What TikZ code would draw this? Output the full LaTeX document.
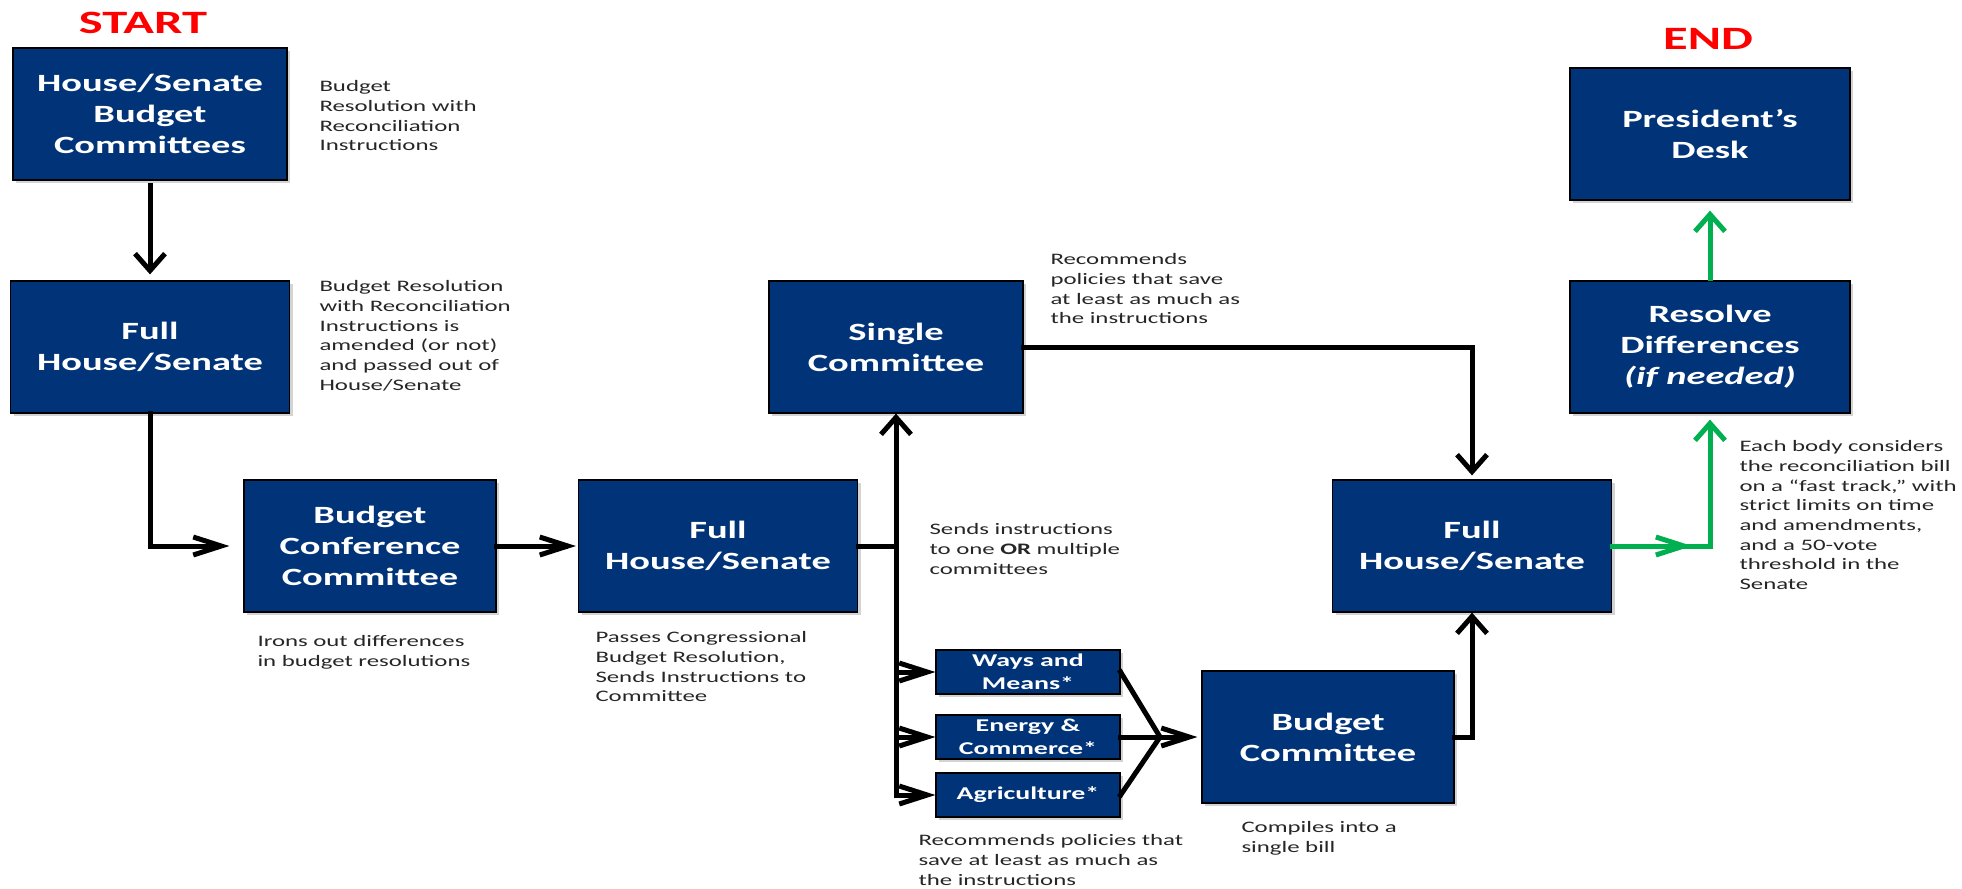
\documentclass[tikz,border=0pt]{standalone}
\usepackage{fontspec}
\setmainfont{Carlito}[FakeStretch=1.55]
\usetikzlibrary{arrows.meta,shadows}

\definecolor{navy}{RGB}{0,51,119}
\definecolor{okgreen}{RGB}{0,176,80}
\newcommand{\boxfont}{\fontsize{12.4}{15.5}\selectfont\bfseries}
\newcommand{\smallboxfont}{\fontsize{9}{11.3}\selectfont\bfseries}
\newcommand{\notefont}{\fontsize{8}{9.85}\selectfont}
\newcommand{\tagfont}{\fontsize{16.3}{18}\selectfont\bfseries}

\begin{document}
\begin{tikzpicture}[x=0.5pt,y=-0.5pt,line width=2.5pt,line cap=rect,
    hto/.style={-{Straight Barb[length=14pt,width=9pt]}},
    vto/.style={-{Straight Barb[length=8.5pt,width=15pt]}}]
    \tikzstyle{box}=[draw=black,line width=0.6pt,fill=navy,text=white,font=\boxfont,
      align=center,inner sep=0pt,minimum height=66pt,
      drop shadow={shadow xshift=1.5pt,shadow yshift=-1.5pt,opacity=0.35}]
    \tikzstyle{small box}=[box,font=\smallboxfont,minimum height=22pt,minimum width=92pt]
    \tikzstyle{note}=[anchor=north west,inner sep=0pt,align=left,font=\notefont,text=black!85]
    \tikzstyle{tag}=[font=\tagfont,text=red]
    \tikzstyle{gline}=[draw=okgreen]

    \useasboundingbox (0,0) rectangle (1962,888);

    \node[tag] (start) at (143,23) {START};
    \node[tag] (end)   at (1708,39) {END};

    \node[box,minimum width=137pt]   (HS) at (150,114)  {House/Senate\\Budget\\Committees};
    \node[box,minimum width=139.5pt] (F1) at (150,347)  {Full\\House/Senate};
    \node[box,minimum width=126pt]   (CC) at (370,546)  {Budget\\Conference\\Committee};
    \node[box,minimum width=139.5pt] (F2) at (718,546)  {Full\\House/Senate};
    \node[box,minimum width=127pt]   (SC) at (896,347)  {Single\\Committee};
    \node[small box] (WM) at (1028,672) {Ways and\\Means*};
    \node[small box] (EC) at (1028,737) {Energy \&\\Commerce*};
    \node[small box] (AG) at (1028,795) {Agriculture*};
    \node[box,minimum width=126pt]   (BC) at (1328,737) {Budget\\Committee};
    \node[box,minimum width=139.5pt] (F3) at (1472,546) {Full\\House/Senate};
    \node[box,minimum width=140pt]   (RD) at (1710,347) {Resolve\\Differences\\\textit{(if needed)}};
    \node[box,minimum width=140pt]   (PD) at (1710,134) {President’s\\Desk};

    \node[note] (n1) at (317,78)   {Budget\\Resolution with\\Reconciliation\\Instructions};
    \node[note] (n2) at (317,278)  {Budget Resolution\\with Reconciliation\\Instructions is\\amended (or not)\\and passed out of\\House/Senate};
    \node[note] (n3) at (255,633)  {Irons out differences\\in budget resolutions};
    \node[note] (n4) at (593,629)  {Passes Congressional\\Budget Resolution,\\Sends Instructions to\\Committee};
    \node[note] (n5) at (927,521)  {Sends instructions\\to one \textbf{OR} multiple\\committees};
    \node[note] (n6) at (1048,251) {Recommends\\policies that save\\at least as much as\\the instructions};
    \node[note] (n7) at (916,832)  {Recommends policies that\\save at least as much as\\the instructions};
    \node[note] (n8) at (1239,819) {Compiles into a\\single bill};
    \node[note] (n9) at (1737,438) {Each body considers\\the reconciliation bill\\on a “fast track,” with\\strict limits on time\\and amendments,\\and a 50-vote\\threshold in the\\Senate};

    \coordinate (J) at (SC.south |- F2.east);
    \coordinate (M) at (1160,737);
    \coordinate (G) at (RD.south |- F3.east);

    \draw[vto,shorten <=2.5pt,shorten >=3pt] (HS.south) -- (F1.north);
    \draw[hto,shorten >=7pt] (F1.south) |- (CC.west);
    \draw[hto,shorten >=1pt] (CC.east) -- (F2.west);
    \draw (F2.east) -- (J);
    \draw[vto] (J |- AG.west) -- (SC.south);
    \foreach \c in {WM,EC,AG}
      \draw[hto] (J |- \c.west) -- (\c.west);
    \foreach \c in {WM,EC,AG}
      \draw (\c.east) -- (M);
    \draw[hto,shorten >=2pt] (M) -- (BC.west);
    \draw[vto] (BC.east) -| (F3.south);
    \draw[vto,shorten >=2pt] (SC.east) -| (F3.north);
    \draw[gline,vto,shorten >=3pt] (F3.east) -- (G) -- (RD.south);
    \draw[gline,hto] (F3.east) -- ([xshift=-9pt]G);
    \draw[gline,vto,shorten <=1pt,shorten >=5pt] (RD.north) -- (PD.south);
\end{tikzpicture}
\end{document}
